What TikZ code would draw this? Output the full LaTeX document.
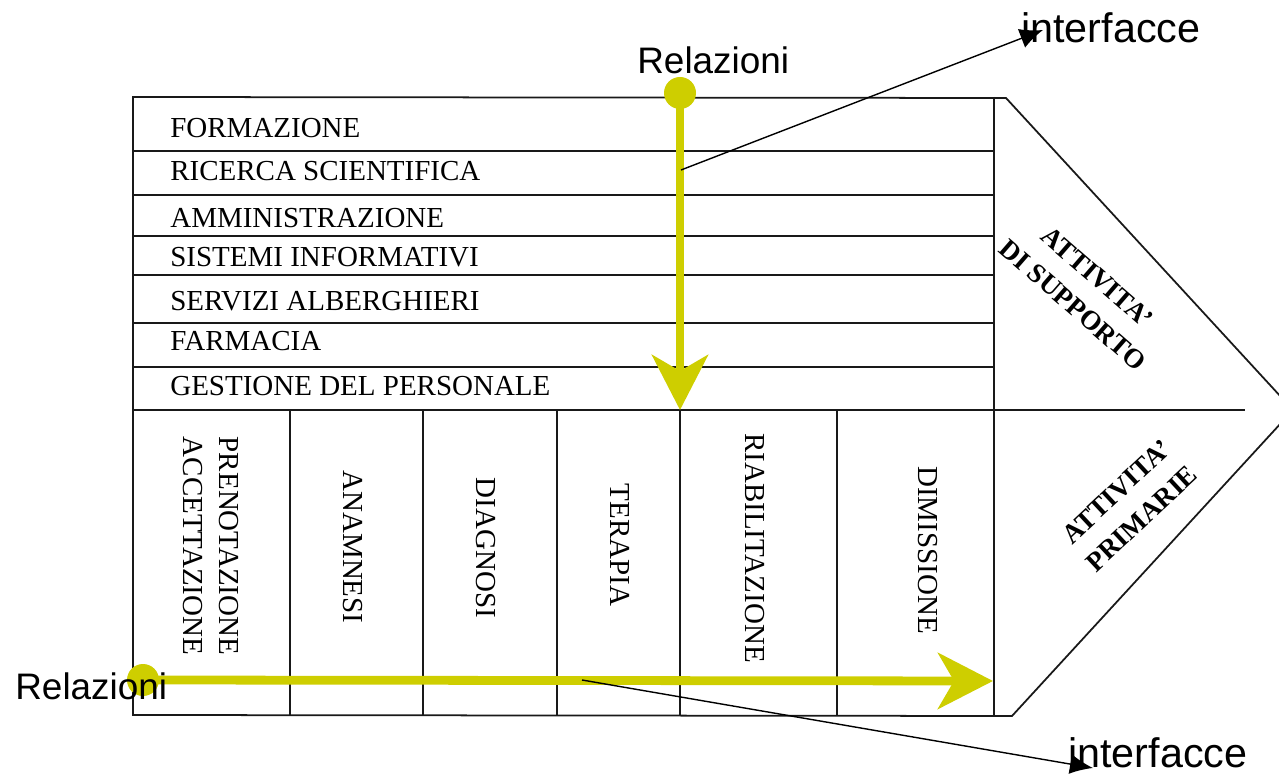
\documentclass[tikz,border=0pt]{standalone}
\usepackage{fontspec}
\setmainfont{Liberation Serif}
\newfontfamily\relfont{Liberation Sans}
\usetikzlibrary{arrows.meta,positioning}
\definecolor{relyellow}{RGB}{206,206,0}
\tikzset{
  frame/.style={line width=1pt, black!90},
  rowtext/.style={anchor=base west, inner sep=0pt, font=\fontsize{16.5}{20}\selectfont},
  coltext/.style={rotate=-90, inner sep=0pt, align=center, font=\fontsize{16.5}{21}\selectfont},
  sidetext/.style={inner sep=0pt, align=center, font=\bfseries\fontsize{15.5}{21}\selectfont},
  reltext/.style={anchor=base west, inner sep=0pt, font=\relfont\fontsize{21}{24}\selectfont},
  iftext/.style={anchor=base west, inner sep=0pt, font=\relfont\fontsize{23.5}{26}\selectfont},
  reldot/.style={circle, fill=relyellow, minimum size=0.64cm, inner sep=0pt},
  relflow/.style={relyellow, line width=5pt, -{Stealth[length=1.1cm,width=1.12cm,inset=0.32cm]}},
  ifarrow/.style={black, line width=0.8pt, -{Latex[length=0.46cm,width=0.4cm]}},
}
\begin{document}
\begin{tikzpicture}[x=0.02cm,y=-0.02cm]
%
\useasboundingbox (0,0) rectangle (1279,776);
%
% outline of the chain
\draw[frame] (133,97) -- (1006,98) -- (1293,410) -- (1012,716) -- (133,715) -- cycle;
\draw[frame] (994,97) -- (994,715);
\draw[frame] (133,410) -- (1245,410);
\foreach \y in {151,195,236,275,323,367}
  \draw[frame] (133,\y) -- (994,\y);
\foreach \x in {290,423,557,680,837}
  \draw[frame] (\x,410) -- (\x,715);
%
% support activities
\node[rowtext] (s1) at (170,138) {FORMAZIONE};
\node[rowtext] (s2) at (170,181) {RICERCA SCIENTIFICA};
\node[rowtext] (s3) at (170,228) {AMMINISTRAZIONE};
\node[rowtext] (s4) at (170,267) {SISTEMI INFORMATIVI};
\node[rowtext] (s5) at (170,311) {SERVIZI ALBERGHIERI};
\node[rowtext] (s6) at (170,351) {FARMACIA};
\node[rowtext] (s7) at (170,396) {GESTIONE DEL PERSONALE};
%
% primary activities
\node[coltext] (p1) at (211,546) {PRENOTAZIONE\\ACCETTAZIONE};
\node[coltext] (p2) at (353,547) {ANAMNESI};
\node[coltext] (p3) at (486,548) {DIAGNOSI};
\node[coltext] (p4) at (620,545) {TERAPIA};
\node[coltext] (p5) at (755,548) {RIABILITAZIONE};
\node[coltext] (p6) at (928,550) {DIMISSIONE};
%
\node[sidetext, rotate=-41] (a1) at (1085,291) {ATTIVITA'\\DI SUPPORTO};
\node[sidetext, rotate=43] (a2) at (1129,505) {ATTIVITA'\\PRIMARIE};
%
% relations
\node[reldot] (dotV) at (680,93) {};
\coordinate (tipV) at (680,410);
\draw[relflow] (dotV.center) -- (tipV);
\node[reldot] (dotH) at (143,680) {};
\coordinate (tipH) at (993,681);
\draw[relflow] (dotH.center) -- (tipH);
%
\node[reltext] (relV) at (637,74) {Relazioni};
\node[reltext] (relH) at (15,700) {Relazioni};
%
% interfaces
\node[iftext] (ifV) at (1021,43) {interfacce};
\node[iftext] (ifH) at (1068,768) {interfacce};
\coordinate (fromV) at (681,170);
\coordinate (toV) at (1043,30);
\coordinate (fromH) at (582,680);
\coordinate (toH) at (1093,768);
\draw[ifarrow] (fromV) -- (toV);
\draw[ifarrow] (fromH) -- (toH);
%
\end{tikzpicture}
\end{document}
